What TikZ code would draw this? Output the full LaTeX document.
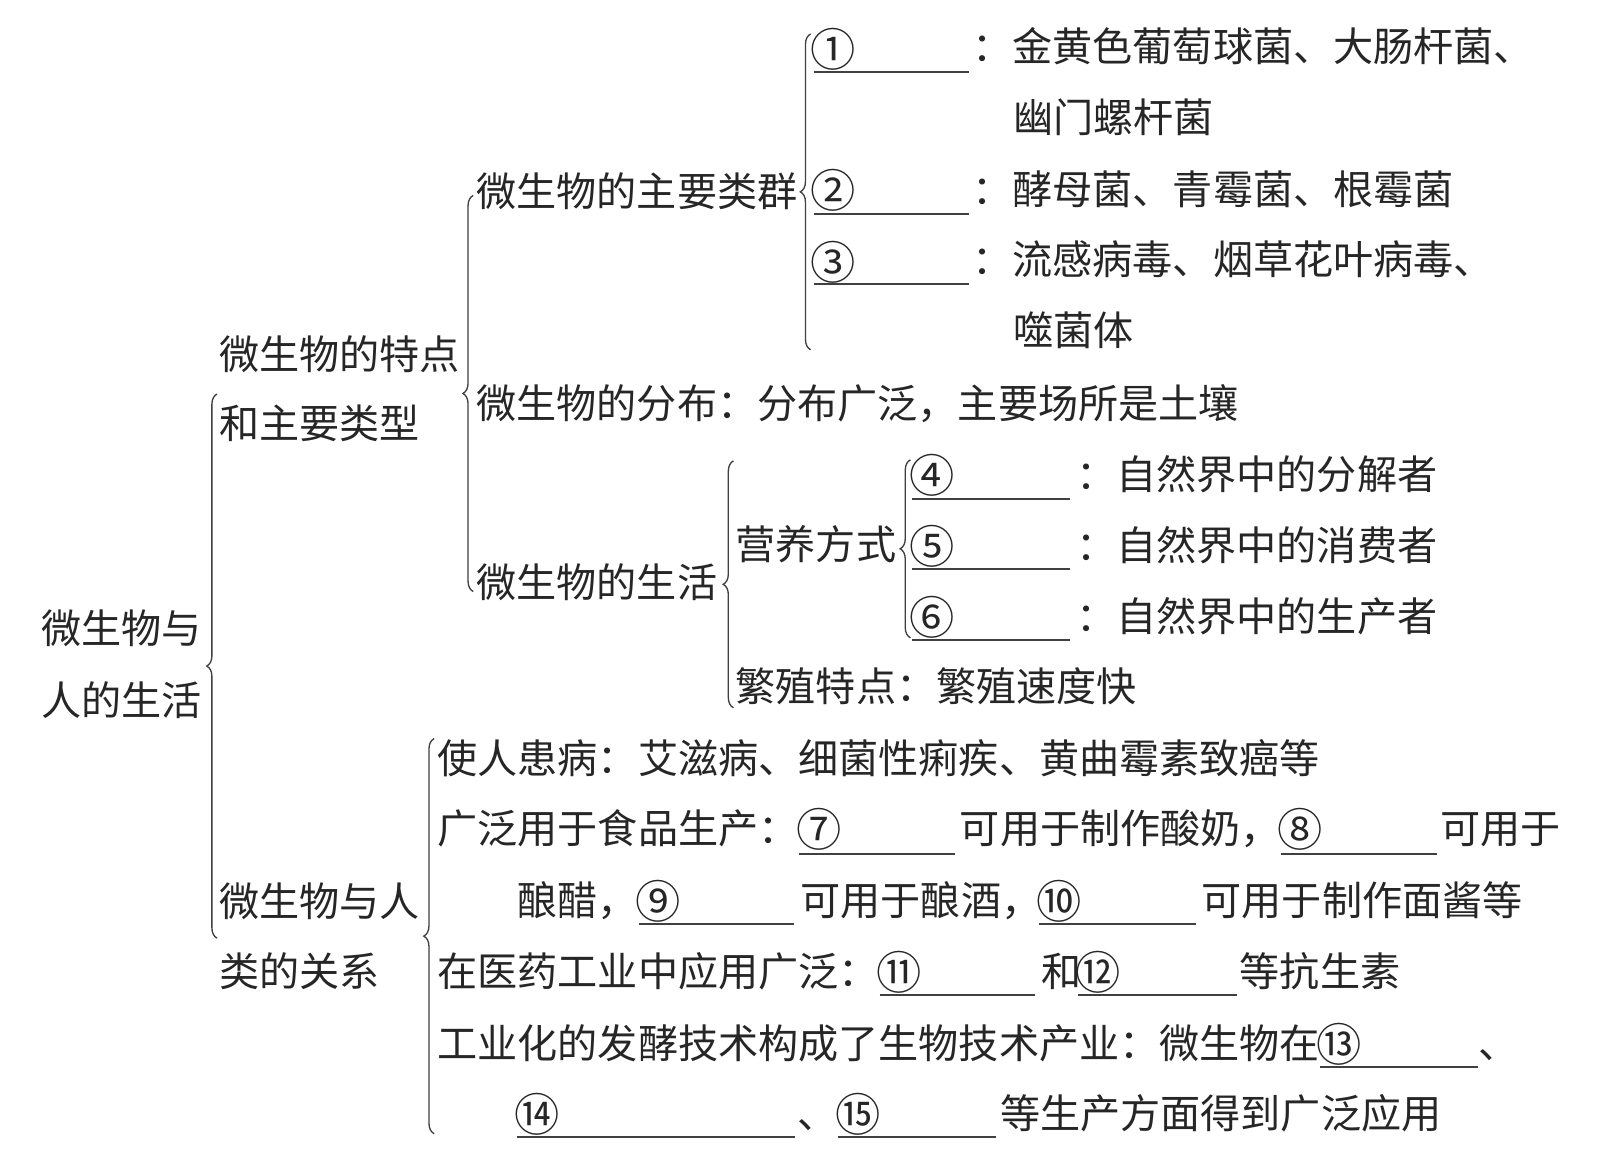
\documentclass[tikz,border=0pt]{standalone}
\usepackage{fontspec}
\newfontfamily\cjk{Noto Sans CJK SC}
\usetikzlibrary{decorations.pathreplacing}
\tikzset{
  txt/.style={anchor=base west, inner sep=0pt, text=black!85,
              font=\cjk\fontsize{39}{39}\selectfont},
  cnum/.style={anchor=base west, inner sep=0pt, text=black!85,
              font=\cjk\fontsize{44}{44}\selectfont},
  brc/.style={draw=black!75, line width=1.3pt, decorate,
              decoration={brace, amplitude=10pt}},
  uline/.style={draw=black!75, line width=1.8pt}
}
\newcommand\tx[4]{\node[txt] (#1) at (#2,#3+14) {#4};}
\newcommand\cn[4]{\node[cnum] (#1) at (#2-3,#3+16.5) {#4};}
\begin{document}
\begin{tikzpicture}[x=1pt, y=-1pt]
\useasboundingbox[fill=white] (0,0) rectangle (1568,1143);
% root
\tx{r1}{40}{612}{微生物与}
\tx{r2}{40}{682}{人的生活}
% brace 1
\coordinate (b1t) at (211,383); \coordinate (b1b) at (211,912);
\draw[brc] (b1b) -- (b1t);
\tx{a1}{213}{345}{微生物的特点}
\tx{a2}{213}{412}{和主要类型}
\tx{c1}{213}{877}{微生物与人}
\tx{c2}{213}{945}{类的关系}
% brace 2
\coordinate (b2t) at (460,190); \coordinate (b2b) at (460,575);
\draw[brc] (b2b) -- (b2t);
\tx{d1}{463}{187}{微生物的主要类群}
\tx{d2}{463}{393}{微生物的分布：分布广泛，主要场所是土壤}
\tx{d3}{463}{567}{微生物的生活}
% brace 3
\coordinate (b3t) at (788,33); \coordinate (b3b) at (788,340);
\draw[brc] (b3b) -- (b3t);
\cn{g1n}{791}{48}{①}
\tx{g1t}{945}{46}{：金黄色葡萄球菌、大肠杆菌、}
\tx{g1u}{985}{115}{幽门螺杆菌}
\cn{g2n}{791}{185}{②}
\tx{g2t}{945}{185}{：酵母菌、青霉菌、根霉菌}
\cn{g3n}{791}{255}{③}
\tx{g3t}{945}{253}{：流感病毒、烟草花叶病毒、}
\tx{g3u}{985}{322}{噬菌体}
\draw[uline] (791,70) -- (942,70);
\draw[uline] (791,208) -- (942,208);
\draw[uline] (791,276) -- (942,276);
% brace 4
\coordinate (b4t) at (713,448); \coordinate (b4b) at (713,688);
\draw[brc] (b4b) -- (b4t);
\tx{e1}{715}{530}{营养方式}
\tx{e2}{715}{668}{繁殖特点：繁殖速度快}
% brace 5
\coordinate (b5t) at (885,447); \coordinate (b5b) at (885,620);
\draw[brc] (b5b) -- (b5t);
\cn{f4n}{887}{462}{④}
\tx{f4t}{1046}{462}{：自然界中的分解者}
\cn{f5n}{887}{531}{⑤}
\tx{f5t}{1046}{531}{：自然界中的消费者}
\cn{f6n}{887}{600}{⑥}
\tx{f6t}{1046}{600}{：自然界中的生产者}
\draw[uline] (887,485) -- (1040,485);
\draw[uline] (887,553) -- (1040,553);
\draw[uline] (887,622) -- (1040,622);
% brace 6
\coordinate (b6t) at (422,718); \coordinate (b6b) at (422,1102);
\draw[brc] (b6b) -- (b6t);
\tx{h1}{425}{738}{使人患病：艾滋病、细菌性痢疾、黄曲霉素致癌等}
\tx{h2a}{425}{806}{广泛用于食品生产：}
\cn{h2n}{777}{806}{⑦}
\tx{h2b}{933}{806}{可用于制作酸奶，}
\cn{h2m}{1245}{806}{⑧}
\tx{h2c}{1400}{806}{可用于}
\draw[uline] (777,830) -- (928,830);
\draw[uline] (1245,830) -- (1397,830);
\tx{h3a}{503}{876}{酿醋，}
\cn{h3n}{621}{876}{⑨}
\tx{h3b}{778}{876}{可用于酿酒，}
\cn{h3m}{1010}{876}{⑩}
\tx{h3c}{1168}{876}{可用于制作面酱等}
\draw[uline] (621,898) -- (772,898);
\draw[uline] (1010,898) -- (1163,898);
\tx{h4a}{425}{945}{在医药工业中应用广泛：}
\cn{h4n}{855}{945}{⑪}
\tx{h4b}{1012}{945}{和}
\cn{h4m}{1048}{945}{⑫}
\tx{h4c}{1205}{945}{等抗生素}
\draw[uline] (855,967) -- (1006,967);
\draw[uline] (1048,967) -- (1202,967);
\tx{h5a}{425}{1015}{工业化的发酵技术构成了生物技术产业：微生物在}
\cn{h5n}{1283}{1015}{⑬}
\tx{h5b}{1437}{1015}{、}
\draw[uline] (1283,1037) -- (1437,1037);
\cn{h6n}{503}{1083}{⑭}
\tx{h6a}{775}{1083}{、}
\cn{h6m}{815}{1083}{⑮}
\tx{h6b}{972}{1083}{等生产方面得到广泛应用}
\draw[uline] (503,1105) -- (773,1105);
\draw[uline] (815,1105) -- (968,1105);
\end{tikzpicture}
\end{document}
